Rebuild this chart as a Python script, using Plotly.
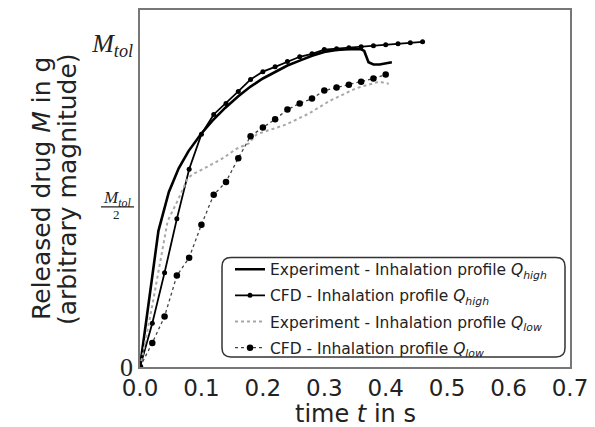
import plotly.graph_objects as go

# ---- data ----
t_exp_high = [0, 0.01, 0.02, 0.03, 0.047, 0.063, 0.079, 0.099, 0.118, 0.139, 0.16, 0.18,
              0.20, 0.22, 0.24, 0.26, 0.28, 0.30, 0.32, 0.34, 0.36, 0.365, 0.372, 0.38, 0.39, 0.41]
m_exp_high = [0, 0.14, 0.28, 0.42, 0.54, 0.613, 0.666, 0.718, 0.76, 0.80, 0.835, 0.865,
              0.89, 0.91, 0.93, 0.945, 0.96, 0.972, 0.978, 0.98, 0.98, 0.975, 0.94, 0.933, 0.933, 0.94]

t_cfd_high = [0, 0.02, 0.04, 0.06, 0.08, 0.10, 0.12, 0.14, 0.16, 0.18, 0.20, 0.22,
              0.24, 0.26, 0.28, 0.30, 0.32, 0.34, 0.36, 0.38, 0.40, 0.42, 0.44, 0.46]
m_cfd_high = [0, 0.135, 0.291, 0.457, 0.610, 0.718, 0.779, 0.813, 0.850, 0.887, 0.911, 0.926,
              0.942, 0.957, 0.966, 0.979, 0.982, 0.985, 0.988, 0.991, 0.994, 0.997, 1.0, 1.003]

t_exp_low = [0, 0.005, 0.02, 0.03, 0.045, 0.063, 0.078, 0.086, 0.102, 0.135, 0.156, 0.177,
             0.19, 0.238, 0.275, 0.308, 0.352, 0.389, 0.405]
m_exp_low = [0, 0.043, 0.19, 0.29, 0.45, 0.52, 0.583, 0.595, 0.61, 0.644, 0.672, 0.69,
             0.718, 0.748, 0.782, 0.82, 0.86, 0.88, 0.874]

t_cfd_low = [0, 0.02, 0.04, 0.06, 0.08, 0.10, 0.12, 0.14, 0.16, 0.18, 0.20, 0.22,
             0.24, 0.26, 0.28, 0.30, 0.32, 0.34, 0.36, 0.38, 0.40]
m_cfd_low = [0, 0.074, 0.156, 0.282, 0.337, 0.439, 0.531, 0.571, 0.644, 0.712, 0.739, 0.764,
             0.794, 0.813, 0.828, 0.853, 0.862, 0.871, 0.880, 0.890, 0.902]

names = [
    "Experiment - Inhalation profile <i>Q</i><sub><i>high</i></sub>",
    "CFD - Inhalation profile <i>Q</i><sub><i>high</i></sub>",
    "Experiment - Inhalation profile <i>Q</i><sub><i>low</i></sub>",
    "CFD - Inhalation profile <i>Q</i><sub><i>low</i></sub>",
]

x_ticks = [0.0, 0.1, 0.2, 0.3, 0.4, 0.5, 0.6, 0.7]
x_ticklabels = ["0.0", "0.1", "0.2", "0.3", "0.4", "0.5", "0.6", "0.7"]

FONT = "DejaVu Sans"
SERIF = "Liberation Serif"
TXT = "#222"

fig = go.Figure()
fig.add_trace(go.Scatter(x=t_exp_high, y=m_exp_high, mode="lines", name=names[0],
                         line=dict(color="black", width=2.6), legendgroup="a"))
fig.add_trace(go.Scatter(x=t_cfd_high, y=m_cfd_high, mode="lines+markers", name=names[1],
                         line=dict(color="black", width=1.8),
                         marker=dict(color="black", size=5), legendgroup="b"))
fig.add_trace(go.Scatter(x=t_exp_low, y=m_exp_low, mode="lines", name=names[2],
                         line=dict(color="#a8a8a8", width=2, dash="dot"), legendgroup="c"))
fig.add_trace(go.Scatter(x=t_cfd_low, y=m_cfd_low, mode="lines+markers", name=names[3],
                         line=dict(color="#444", width=1.3, dash="dot"),
                         marker=dict(color="black", size=6.5), legendgroup="d"))

W, H = 595, 427
OFF = 8  # page body margin of the browser
L, R, T, B = 132, 33, 0, 68
pw, ph = W - L - R, H - T - B
YTOP = ph / 326.0  # M_tol lies 326 px above the x axis


def fx(sx):
    """screen px -> paper x"""
    return (sx - OFF - L) / pw


def fy(sy):
    """screen px -> paper y"""
    return (H - B - (sy - OFF)) / ph


# rounded legend frame
x0, x1 = fx(222), fx(565)
y0, y1 = fy(357), fy(257)
rx, ry = 9 / pw, 9 / ph
path = (f"M {x0+rx},{y0} L {x1-rx},{y0} Q {x1},{y0} {x1},{y0+ry} "
        f"L {x1},{y1-ry} Q {x1},{y1} {x1-rx},{y1} L {x0+rx},{y1} Q {x0},{y1} {x0},{y1-ry} "
        f"L {x0},{y0+ry} Q {x0},{y0} {x0+rx},{y0} Z")
fig.add_shape(type="path", path=path, xref="paper", yref="paper",
              line=dict(color="#333", width=1.5), fillcolor="rgba(255,255,255,0.9)", layer="above")

# fraction label M_tol / 2 at y = 0.5
fig.add_annotation(x=fx(117), y=fy(198), xref="paper", yref="paper", xanchor="center",
                   yanchor="middle", text="<i>M</i><sub><i>tol</i></sub>", showarrow=False,
                   font=dict(family=SERIF, size=17, color=TXT))
fig.add_shape(type="line", xref="paper", yref="paper", x0=fx(101), x1=fx(134),
              y0=fy(206), y1=fy(206), line=dict(color=TXT, width=1.2))
fig.add_annotation(x=fx(116), y=fy(214), xref="paper", yref="paper", xanchor="center",
                   yanchor="middle", text="2", showarrow=False,
                   font=dict(family=SERIF, size=13, color=TXT))

# axis titles
fig.add_annotation(x=fx(355), y=fy(414), xref="paper", yref="paper", xanchor="center",
                   yanchor="middle", text="time <i>t</i> in s", showarrow=False,
                   font=dict(family=FONT, size=24, color=TXT))
fig.add_annotation(x=fx(42), y=fy(188), xref="paper", yref="paper", xanchor="center",
                   yanchor="middle", text="Released drug <i>M</i> in g", showarrow=False,
                   textangle=-90, font=dict(family=FONT, size=25, color=TXT))
fig.add_annotation(x=fx(68), y=fy(188), xref="paper", yref="paper", xanchor="center",
                   yanchor="middle", text="(arbitrary magnitude)", showarrow=False,
                   textangle=-90, font=dict(family=FONT, size=25, color=TXT))

fig.update_layout(
    width=W, height=H,
    margin=dict(l=L, r=R, t=T, b=B),
    paper_bgcolor="white", plot_bgcolor="white",
    font=dict(family=FONT, color=TXT),
    showlegend=True,
    legend=dict(x=fx(230), y=fy(252), xanchor="left", yanchor="top",
                bgcolor="rgba(0,0,0,0)", borderwidth=0,
                font=dict(family=FONT, size=15.5, color=TXT),
                tracegroupgap=3, itemwidth=30),
    xaxis=dict(range=[0, 0.7], tickvals=x_ticks, ticktext=x_ticklabels, showgrid=False,
               zeroline=False, showline=True, mirror=True, linecolor="#777", linewidth=1.5,
               ticks="", tickfont=dict(family=FONT, size=23, color=TXT)),
    yaxis=dict(range=[0, YTOP], tickvals=[0, 1],
               ticktext=["0", "<i>M</i><sub><i>tol</i></sub>"], showgrid=False,
               zeroline=False, showline=True, mirror=True, linecolor="#777", linewidth=1.5,
               ticks="", tickfont=dict(family=SERIF, size=26, color=TXT)),
)

fig.write_html("out.html")
